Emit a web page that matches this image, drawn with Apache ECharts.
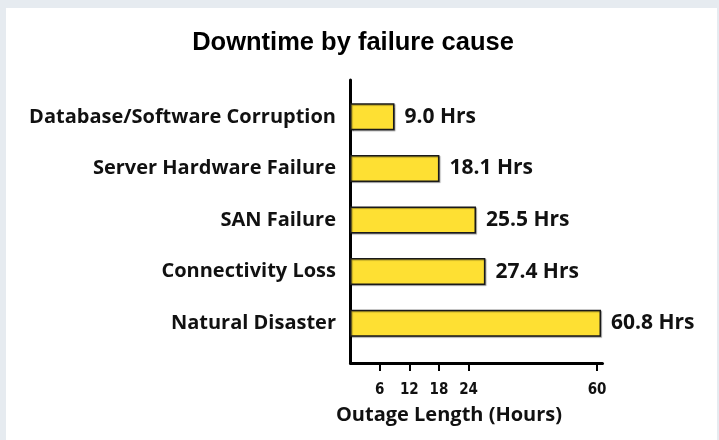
<!DOCTYPE html>
<html>
<head>
<meta charset="utf-8">
<script src="https://cdn.jsdelivr.net/npm/echarts@6/dist/echarts.min.js"></script>
<style>
  html, body { margin: 0; padding: 0; background: #e6ebf0; }
  #panel { position: absolute; left: 6px; top: 8px; width: 711px; height: 432px; background: #ffffff; }
  #chart { position: absolute; left: 0; top: 0; width: 719px; height: 440px; }
</style>
</head>
<body>
<div id="panel"></div>
<div id="chart"></div>
<script>
const categories = ['Database/Software Corruption', 'Server Hardware Failure', 'SAN Failure', 'Connectivity Loss', 'Natural Disaster'];
const hours = [9.0, 18.1, 25.5, 27.4, 60.8];
const tickValues = [6, 12, 18, 24, 60];
const chartTitle = 'Downtime by failure cause';
const axisTitle = 'Outage Length (Hours)';

const labelFont = '"Open Sans", Lato, sans-serif';
const xMin = 0, xMax = 61;
const axisBreaks = [{ start: 40, end: 50, gap: 0 }];

const chart = echarts.init(document.getElementById('chart'), null, { renderer: 'canvas' });
chart.setOption({
  backgroundColor: 'transparent',
  animation: false,
  title: [
    { text: chartTitle, left: 348, top: 25, textAlign: 'center',
      textStyle: { fontFamily: '"Liberation Sans", Arial, sans-serif', fontWeight: 'bold', fontSize: 25.5, color: '#000' } },
    { text: axisTitle, left: 444, top: 400, textAlign: 'center',
      textStyle: { fontFamily: labelFont, fontWeight: 'bold', fontSize: 20, color: '#111' } }
  ],
  grid: [
    { left: 350, top: 80, width: 252, bottom: 77 },
    { left: 350, top: 91, width: 252, height: 258 }
  ],
  xAxis: [
    { type: 'value', gridIndex: 0, min: xMin, max: xMax, breaks: axisBreaks,
      breakArea: { show: false },
      splitLine: { show: false },
      axisLine: { show: true, lineStyle: { color: '#000', width: 3 } },
      axisTick: { show: true, inside: false, length: 8, lineStyle: { color: '#000', width: 2 }, customValues: tickValues },
      axisLabel: { show: true, margin: 20, customValues: tickValues,
        fontFamily: '"Liberation Sans Narrow", "DejaVu Sans Condensed", sans-serif', fontWeight: 'bold', fontSize: 15, color: '#111' } },
    { type: 'value', gridIndex: 1, min: xMin, max: xMax, breaks: axisBreaks,
      breakArea: { show: false },
      splitLine: { show: false }, axisLine: { show: false }, axisTick: { show: false }, axisLabel: { show: false } }
  ],
  yAxis: [
    { type: 'value', gridIndex: 0, min: 0, max: 1,
      splitLine: { show: false }, axisTick: { show: false }, axisLabel: { show: false },
      axisLine: { show: true, lineStyle: { color: '#000', width: 3 } } },
    { type: 'category', gridIndex: 1, data: categories, inverse: true,
      axisLine: { show: false }, axisTick: { show: false },
      axisLabel: { margin: 14, fontFamily: labelFont, fontWeight: 'bold', fontSize: 20, color: '#111' } }
  ],
  series: [{
    type: 'bar',
    xAxisIndex: 1, yAxisIndex: 1,
    data: hours,
    barWidth: 27,
    itemStyle: { color: '#fee033', borderColor: '#1a1a1a', borderWidth: 1.5,
      shadowColor: 'rgba(0,0,0,0.35)', shadowOffsetX: 1, shadowOffsetY: 1, shadowBlur: 1 },
    label: { show: true, position: 'right', distance: 10,
      formatter: p => p.value.toFixed(1) + ' Hrs',
      fontFamily: labelFont, fontWeight: 'bold', fontSize: 21, color: '#111' }
  }]
});
</script>
</body>
</html>
